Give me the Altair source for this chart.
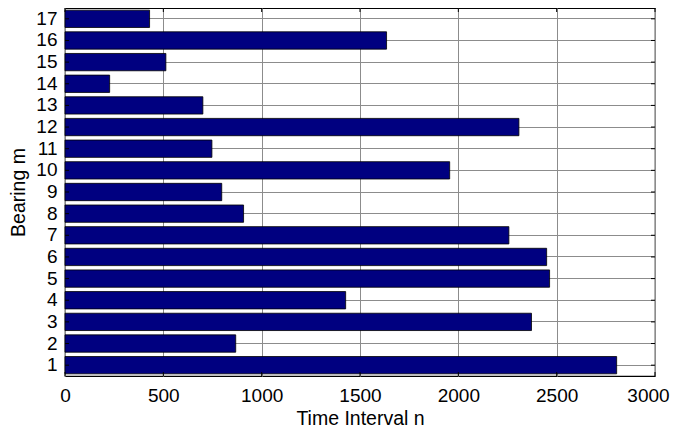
import altair as alt
import pandas as pd

bearings = list(range(1, 18))
intervals = [2805, 868, 2372, 1427, 2464, 2449, 2257, 908, 797, 1956,
             747, 2308, 701, 227, 513, 1635, 430]
x_ticks = [0, 500, 1000, 1500, 2000, 2500, 3000]

df = pd.DataFrame({"bearing": bearings, "interval": intervals})
ticks_df = pd.DataFrame({"t": x_ticks})

W, H = 590, 368
FONT = "Liberation Sans"

x_scale = alt.Scale(domain=[0, 3000], nice=False, zero=True)
y_scale = alt.Scale(domain=list(reversed(bearings)), paddingInner=0.2, paddingOuter=0.1)

x_axis = alt.Axis(values=x_ticks, format="d", title="Time Interval n", grid=True,
                  gridColor="#8c8c8c", gridWidth=1, tickSize=0, domain=False,
                  labelPadding=10, labelFlush=False,
                  labelOffset=alt.ExprRef(expr="datum.value == 3000 ? -7 : 0"),
                  titleBaseline="alphabetic", titleY=48)
y_axis = alt.Axis(title="Bearing m", grid=True, bandPosition=0.5,
                  gridColor="#8c8c8c", gridWidth=1, tickSize=0, domain=False,
                  labelAngle=0, labelPadding=8,
                  titleBaseline="alphabetic", titleX=-41)

bars = alt.Chart(df).mark_bar(color="#000080", stroke="#000000", strokeWidth=0.8).encode(
    x=alt.X("interval:Q", scale=x_scale, axis=x_axis),
    y=alt.Y("bearing:O", scale=y_scale, axis=y_axis),
)

tick_x_bottom = alt.Chart(ticks_df).mark_rule(color="black").encode(
    x=alt.X("t:Q", scale=x_scale, axis=x_axis), y=alt.value(H), y2=alt.value(H - 4))
tick_x_top = alt.Chart(ticks_df).mark_rule(color="black").encode(
    x=alt.X("t:Q", scale=x_scale, axis=x_axis), y=alt.value(0), y2=alt.value(4))
tick_y_right = alt.Chart(df).mark_rule(color="black").encode(
    y=alt.Y("bearing:O", scale=y_scale, axis=y_axis), x=alt.value(W), x2=alt.value(W - 4))
tick_y_left = alt.Chart(df).mark_rule(color="black").encode(
    y=alt.Y("bearing:O", scale=y_scale, axis=y_axis), x=alt.value(0), x2=alt.value(4))

chart = alt.layer(bars, tick_x_bottom, tick_x_top, tick_y_right, tick_y_left).properties(
    width=W, height=H,
    autosize=alt.AutoSizeParams(type="none"),
    padding={"left": 57, "top": 0, "right": 15, "bottom": 51},
).configure_view(stroke="black", strokeWidth=1.2).configure_axis(
    labelFont=FONT, titleFont=FONT, labelFontSize=19, titleFontSize=19.5,
    labelColor="black", titleColor="black", titleFontWeight="normal",
)

chart.save("out.html", embed_options={"renderer": "svg", "actions": False})
